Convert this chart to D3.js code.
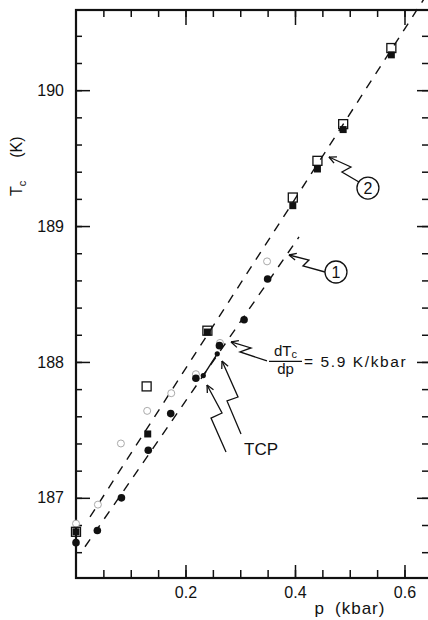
<!DOCTYPE html>
<html>
<head>
<meta charset="utf-8">
<script src="https://cdn.jsdelivr.net/npm/d3@7"></script>
<style>
body{margin:0;background:#fff;}
svg{display:block;font-family:"Liberation Sans",Arial,sans-serif;}
</style>
</head>
<body>
<svg id="chart" width="428" height="620"></svg>
<script>
// values (p in kbar, Tc in K)
const filledCircleP = [0, 0.039, 0.083, 0.132, 0.173, 0.219, 0.262, 0.307, 0.350];
const filledCircleT = [186.67, 186.76, 187.00, 187.35, 187.62, 187.88, 188.12, 188.31, 188.61];

const tcpP = [0.2325, 0.258];
const tcpT = [187.90, 188.06];

const filledSquareP = [0, 0.131, 0.240, 0.396, 0.441, 0.488, 0.576];
const filledSquareT = [186.75, 187.47, 188.22, 189.15, 189.42, 189.71, 190.26];

const openSquareP = [0, 0.129, 0.240, 0.396, 0.441, 0.488, 0.576];
const openSquareT = [186.75, 187.82, 188.23, 189.21, 189.48, 189.75, 190.31];

const openCircleP = [0, 0.040, 0.082, 0.130, 0.174, 0.219, 0.263, 0.349];
const openCircleT = [186.81, 186.95, 187.40, 187.64, 187.77, 187.91, 188.14, 188.74];

// dashed fits, end points
const line1P = [0.0164, 0.4073];
const line1T = [186.64, 188.92];
const line2P = [0.0256, 0.6466];
const line2T = [186.86, 190.74];

const xTicks = [0.2, 0.4, 0.6];
const yTicks = [187, 188, 189, 190];

const svg = d3.select("#chart");

const margin = {top:10, left:76, bottom:578, right:430};

const x = d3.scaleLinear()
    .domain([0, 0.6466])
    .range([margin.left, margin.right]);

const y = d3.scaleLinear()
    .domain([186.41, 190.59])
    .range([margin.bottom, margin.top]);

const xMinor = d3.range(0.05, 0.64, 0.05);
const yMinor = d3.range(186.6, 190.5, 0.2);

function cleanAxis(g){
    g.select(".domain").remove();
    g.selectAll("line").attr("stroke","#111").attr("stroke-width",1.5);
    g.selectAll("text")
        .attr("fill","#111")
        .style("font-size","16px")
        .style("font-family",'"Liberation Sans",Arial,sans-serif');
}

// left
svg.append("g")
    .attr("transform",`translate(${margin.left},0)`)
    .call(d3.axisLeft(y).tickValues(yMinor).tickSizeInner(-6).tickSizeOuter(0).tickFormat(""))
    .call(cleanAxis);
svg.append("g")
    .attr("transform",`translate(${margin.left},0)`)
    .call(d3.axisLeft(y).tickValues(yTicks).tickSizeInner(-14).tickSizeOuter(0).tickPadding(12).tickFormat(d3.format("d")))
    .call(cleanAxis);

// right
svg.append("g")
    .attr("transform",`translate(${margin.right},0)`)
    .call(d3.axisRight(y).tickValues(yMinor).tickSizeInner(-8).tickSizeOuter(0).tickFormat(""))
    .call(cleanAxis);
svg.append("g")
    .attr("transform",`translate(${margin.right},0)`)
    .call(d3.axisRight(y).tickValues(yTicks).tickSizeInner(-13).tickSizeOuter(0).tickFormat(""))
    .call(cleanAxis);

// top
svg.append("g")
    .attr("transform",`translate(0,${margin.top})`)
    .call(d3.axisTop(x).tickValues(xMinor).tickSizeInner(-7).tickSizeOuter(0).tickFormat(""))
    .call(cleanAxis);
svg.append("g")
    .attr("transform",`translate(0,${margin.top})`)
    .call(d3.axisTop(x).tickValues(xTicks).tickSizeInner(-15).tickSizeOuter(0).tickFormat(""))
    .call(cleanAxis);

// bottom
svg.append("g")
    .attr("transform",`translate(0,${margin.bottom})`)
    .call(d3.axisBottom(x).tickValues(xMinor).tickSizeInner(-8).tickSizeOuter(0).tickFormat(""))
    .call(cleanAxis);
svg.append("g")
    .attr("transform",`translate(0,${margin.bottom})`)
    .call(d3.axisBottom(x).tickValues(xTicks).tickSizeInner(-13).tickSizeOuter(0).tickPadding(9).tickFormat(d3.format(".1f")))
    .call(cleanAxis);

// frame
svg.append("rect")
    .attr("x",margin.left)
    .attr("y",margin.top)
    .attr("width",margin.right-margin.left)
    .attr("height",margin.bottom-margin.top)
    .attr("fill","none")
    .attr("stroke","#111")
    .attr("stroke-width",2.2);

// axis titles
svg.append("text")
    .attr("transform","translate(22,196) rotate(-90)")
    .attr("fill","#111")
    .style("font-size","16px")
    .call(t => {
        t.append("tspan").text("T");
        t.append("tspan").attr("dy",4).style("font-size","11px").text("c");
        t.append("tspan").attr("dy",-4).attr("dx",23).text("(K)");
    });

svg.append("text")
    .attr("x",350)
    .attr("y",614)
    .attr("text-anchor","middle")
    .attr("fill","#111")
    .style("font-size","17px")
    .style("letter-spacing","1px")
    .call(t => {
        t.append("tspan").text("p");
        t.append("tspan").attr("dx",10).text("(kbar)");
    });

// dashed lines
const line = d3.line().x(d => x(d[0])).y(d => y(d[1]));

[[line1P, line1T],[line2P, line2T]].forEach(([ps, ts]) => {
    svg.append("path")
        .datum(ps.map((p,i) => [p, ts[i]]))
        .attr("d",line)
        .attr("fill","none")
        .attr("stroke","#111")
        .attr("stroke-width",1.4)
        .attr("stroke-dasharray","9,8");
});

// open circles (faint)
svg.selectAll(".oc")
    .data(openCircleP.map((p,i) => [p, openCircleT[i]]))
    .join("circle")
    .attr("cx",d => x(d[0]))
    .attr("cy",d => y(d[1]))
    .attr("r",3.5)
    .attr("fill","white")
    .attr("stroke","#aaa")
    .attr("stroke-width",1);

// filled squares
svg.selectAll(".fs")
    .data(filledSquareP.map((p,i) => [p, filledSquareT[i]]))
    .join("rect")
    .attr("x",d => x(d[0]) - 3.5)
    .attr("y",d => y(d[1]) - 3.5)
    .attr("width",7)
    .attr("height",7)
    .attr("fill","#111");

// open squares
svg.selectAll(".os")
    .data(openSquareP.map((p,i) => [p, openSquareT[i]]))
    .join("rect")
    .attr("x",d => x(d[0]) - 4.5)
    .attr("y",d => y(d[1]) - 4.5)
    .attr("width",9)
    .attr("height",9)
    .attr("fill","none")
    .attr("stroke","#111")
    .attr("stroke-width",1.3);

// filled circles
svg.selectAll(".fc")
    .data(filledCircleP.map((p,i) => [p, filledCircleT[i]]))
    .join("circle")
    .attr("cx",d => x(d[0]))
    .attr("cy",d => y(d[1]))
    .attr("r",3.8)
    .attr("fill","#111");

// TCP dots joined by a solid segment
const tcp = tcpP.map((p,i) => [p, tcpT[i]]);
svg.append("path")
    .datum(tcp)
    .attr("d",line)
    .attr("stroke","#111")
    .attr("stroke-width",1.4);
svg.selectAll(".tcp")
    .data(tcp)
    .join("circle")
    .attr("cx",d => x(d[0]))
    .attr("cy",d => y(d[1]))
    .attr("r",2.6)
    .attr("fill","#111");

// zigzag arrows, offsets in px from the tip
function zig(tipP, tipT, offs){
    const tx = x(tipP), ty = y(tipT);
    const pts = [[tx,ty]].concat(offs.map(o => [tx+o[0], ty+o[1]]));
    svg.append("path")
        .attr("d",d3.line()(pts))
        .attr("fill","none")
        .attr("stroke","#111")
        .attr("stroke-width",1.3);
    const a = Math.atan2(offs[0][1], offs[0][0]);
    [0.45,-0.45].forEach(da => {
        svg.append("line")
            .attr("x1",tx).attr("y1",ty)
            .attr("x2",tx + 8*Math.cos(a+da))
            .attr("y2",ty + 8*Math.sin(a+da))
            .attr("stroke","#111")
            .attr("stroke-width",1.3);
    });
    return [tx, ty];
}

function circled(cx, cy, label){
    svg.append("circle")
        .attr("cx",cx).attr("cy",cy).attr("r",11)
        .attr("fill","white")
        .attr("stroke","#111")
        .attr("stroke-width",1.3);
    svg.append("text")
        .attr("x",cx).attr("y",cy+5.5)
        .attr("text-anchor","middle")
        .attr("fill","#111")
        .style("font-size","16px")
        .text(label);
}

const t1 = zig(0.389, 188.787, [[20,5],[14,11],[36,17]]);
circled(t1[0]+47, t1[1]+17, "1");

const t2 = zig(0.462, 189.508, [[22,10],[13,15],[30,25]]);
circled(t2[0]+39, t2[1]+31, "2");

const tf = zig(0.2831, 188.147, [[20,6],[9,10],[36,19]]);
const fx = tf[0] + 38, fy = tf[1] + 19.5;
svg.append("line")
    .attr("x1",fx).attr("x2",fx+33)
    .attr("y1",fy).attr("y2",fy)
    .attr("stroke","#111").attr("stroke-width",1.3);
svg.append("text")
    .attr("x",fx+16.5).attr("y",fy-5)
    .attr("text-anchor","middle")
    .attr("fill","#111")
    .style("font-size","15px")
    .call(t => {
        t.append("tspan").text("dT");
        t.append("tspan").attr("dy",1.5).style("font-size","11px").text("c");
    });
svg.append("text")
    .attr("x",fx+16.5).attr("y",fy+13)
    .attr("text-anchor","middle")
    .attr("fill","#111")
    .style("font-size","15px")
    .text("dp");
svg.append("text")
    .attr("x",fx+35).attr("y",fy+5.5)
    .attr("fill","#111")
    .style("font-size","15.5px")
    .style("letter-spacing","1.6px")
    .text("= 5.9 K/kbar");

const tr = zig(0.2667, 188.007, [[16,36],[5,40],[19,73]]);
zig(0.2393, 187.830, [[15,28],[4,33],[19,67]]);
svg.append("text")
    .attr("x",tr[0]+22).attr("y",tr[1]+94)
    .attr("fill","#111")
    .style("font-size","17px")
    .text("TCP");
</script>
</body>
</html>
